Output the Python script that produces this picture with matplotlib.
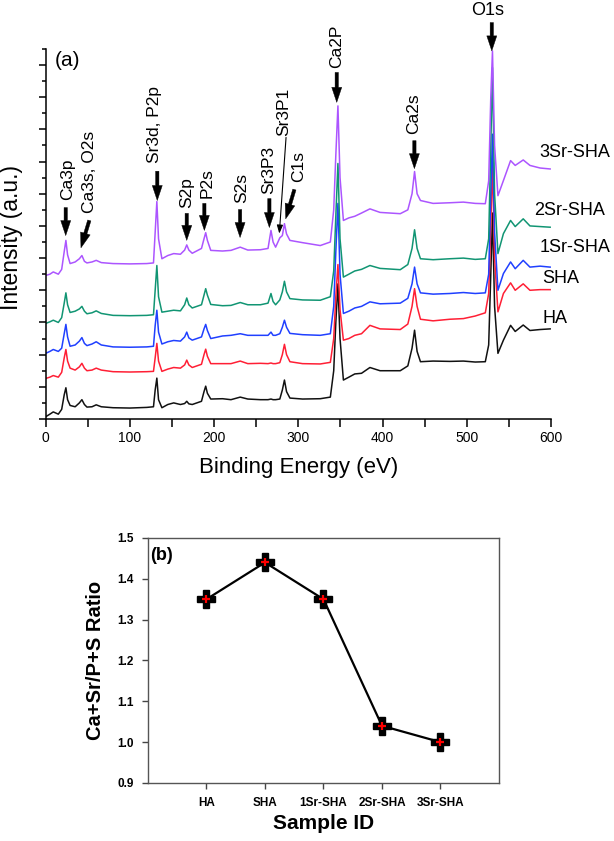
import matplotlib
matplotlib.use("Agg")
import matplotlib.pyplot as plt
from matplotlib.ticker import MultipleLocator, FormatStrFormatter

plt.rcParams['font.family'] = ['Liberation Sans', 'DejaVu Sans']

# (a) XPS survey spectra, stacked; binding energy grid shared by all curves
energy = [0, 5, 9, 15, 19, 22, 24, 26, 29, 35, 40, 43, 46, 49, 55, 60, 66, 80, 100,
          120, 128, 130, 132, 134, 138, 145, 152, 160, 165, 167.5, 170, 174, 185,
          188, 190, 192, 196, 210, 220, 231, 240, 255, 264, 267.5, 270, 273, 278,
          281, 283.5, 286, 290, 305, 326, 338, 342, 344.5, 347, 349.5, 353.5, 360,
          367, 375, 385, 397, 421, 430, 435, 438, 441, 445, 460, 480, 496, 510, 522,
          526, 528.5, 530.5, 533, 537, 543.5, 552, 557.5, 567, 575, 587, 599]

ha = [0.07, 0.15, 0.22, 0.15, 0.3, 0.75, 0.97, 0.6, 0.42, 0.38, 0.5, 0.6, 0.45, 0.37,
      0.38, 0.44, 0.38, 0.35, 0.34, 0.36, 0.38, 0.9, 1.27, 0.6, 0.35, 0.45, 0.5, 0.45,
      0.48, 0.55, 0.47, 0.45, 0.55, 0.85, 1.02, 0.8, 0.62, 0.63, 0.6, 0.68, 0.62, 0.6,
      0.6, 0.62, 0.6, 0.6, 0.62, 0.9, 1.21, 0.85, 0.65, 0.62, 0.63, 0.68, 1.5, 3.0,
      4.2, 2.5, 1.21, 1.3, 1.4, 1.42, 1.6, 1.5, 1.5, 1.65, 2.2, 2.76, 2.1, 1.78, 1.8,
      1.79, 1.8, 1.77, 1.78, 2.3, 4.5, 6.4, 3.5, 2.04, 2.45, 2.91, 2.72, 2.92, 2.75,
      2.78, 2.8]

sha = [1.26, 1.3, 1.35, 1.3, 1.45, 1.9, 2.16, 1.8, 1.58, 1.52, 1.62, 1.73, 1.58, 1.5,
       1.52, 1.58, 1.52, 1.47, 1.46, 1.47, 1.48, 1.9, 2.35, 1.8, 1.48, 1.55, 1.6, 1.58,
       1.68, 1.83, 1.68, 1.6, 1.7, 2.0, 2.17, 1.95, 1.72, 1.72, 1.72, 1.8, 1.72, 1.73,
       1.72, 1.74, 1.72, 1.72, 1.75, 2.0, 2.32, 2.0, 1.78, 1.72, 1.71, 1.76, 2.5, 3.8,
       4.8, 3.4, 2.45, 2.5, 2.6, 2.65, 2.91, 2.8, 2.78, 2.95, 3.5, 4.05, 3.5, 3.1, 3.05,
       3.1, 3.12, 3.2, 3.3, 3.9, 6.0, 8.0, 5.0, 3.33, 3.9, 4.23, 4.0, 4.2, 4.0, 4.02,
       4.02]

sr1_sha = [2.04, 2.1, 2.16, 2.1, 2.2, 2.65, 2.94, 2.55, 2.26, 2.3, 2.42, 2.53, 2.35,
           2.28, 2.33, 2.4, 2.3, 2.24, 2.23, 2.24, 2.26, 2.9, 3.38, 2.7, 2.33, 2.4,
           2.44, 2.42, 2.55, 2.7, 2.52, 2.45, 2.55, 2.8, 2.94, 2.75, 2.5, 2.58, 2.6,
           2.65, 2.6, 2.6, 2.6, 2.7, 2.6, 2.6, 2.65, 2.85, 3.07, 2.85, 2.66, 2.62, 2.6,
           2.65, 3.5, 5.2, 6.7, 4.5, 3.28, 3.35, 3.45, 3.5, 3.64, 3.58, 3.6, 3.75, 4.2,
           4.72, 4.2, 3.92, 3.88, 3.9, 3.93, 3.9, 3.92, 4.5, 7.0, 8.85, 5.8, 4.0, 4.52,
           4.88, 4.67, 4.93, 4.72, 4.75, 4.72]

sr2_sha = [2.97, 3.02, 3.07, 3.0, 3.15, 3.6, 3.92, 3.55, 3.31, 3.35, 3.42, 3.5, 3.35,
           3.27, 3.3, 3.36, 3.28, 3.22, 3.21, 3.22, 3.24, 4.0, 4.77, 3.8, 3.32, 3.35,
           3.38, 3.36, 3.55, 3.76, 3.55, 3.45, 3.55, 3.85, 4.05, 3.85, 3.56, 3.52,
           3.53, 3.62, 3.55, 3.55, 3.6, 3.9, 3.65, 3.55, 3.7, 3.95, 4.28, 3.95, 3.74,
           3.7, 3.69, 3.8, 4.6, 6.3, 7.94, 5.6, 4.41, 4.5, 4.6, 4.65, 4.77, 4.68, 4.64,
           4.8, 5.3, 5.88, 5.3, 4.98, 4.95, 4.98, 5.0, 4.96, 4.98, 5.6, 8.5, 10.92, 7.0,
           5.14, 5.76, 6.17, 5.98, 6.22, 6.0, 5.98, 5.96]

sr3_sha = [4.46, 4.5, 4.57, 4.5, 4.65, 5.2, 5.55, 5.1, 4.83, 4.88, 4.98, 5.08, 4.9,
           4.85, 4.88, 4.93, 4.86, 4.83, 4.82, 4.83, 4.85, 5.8, 6.76, 5.6, 4.98, 5.08,
           5.14, 5.12, 5.25, 5.41, 5.25, 5.15, 5.3, 5.6, 5.79, 5.55, 5.24, 5.22, 5.24,
           5.34, 5.25, 5.26, 5.3, 5.86, 5.5, 5.34, 5.63, 5.7, 6.07, 5.75, 5.55, 5.48,
           5.39, 5.5, 6.5, 8.2, 9.73, 7.5, 6.17, 6.25, 6.3, 6.4, 6.53, 6.42, 6.38, 6.5,
           7.0, 7.69, 7.0, 6.79, 6.7, 6.72, 6.74, 6.7, 6.69, 7.4, 10.0, 11.44, 8.5, 6.94,
           7.41, 8.03, 7.88, 8.05, 7.88, 7.8, 7.77]

curve_names = ["HA", "SHA", "1Sr-SHA", "2Sr-SHA", "3Sr-SHA"]
curve_colors = ["#111111", "#ff1f35", "#2040ff", "#119573", "#ac55ff"]

# peak assignments: text, x of text, bottom of text, arrow tail, arrow tip
peak_labels = [
    ("Ca3p", 26.1, 6.82, (23.8, 6.57), (23.8, 5.70)),
    ("Ca3s, O2s", 52.6, 6.39, (51.8, 6.17), (41.9, 5.32)),
    ("Sr3d, P2p", 129.8, 7.94, (132.5, 7.70), (132.5, 6.79)),
    ("S2p", 167.5, 6.57, (167.5, 6.39), (167.5, 5.55)),
    ("P2s", 191.2, 6.88, (188.4, 6.70), (188.4, 5.86)),
    ("S2s", 232.8, 6.70, (230.8, 6.51), (230.8, 5.64)),
    ("Sr3P3", 264.4, 7.00, (265.6, 6.85), (265.6, 5.95)),
    ("C1s", 300.0, 7.35, (295.3, 7.13), (285.0, 6.22)),
    ("Ca2P", 345.6, 10.91, (345.6, 10.77), (345.6, 9.84)),
    ("Ca2s", 436.6, 8.87, (437.8, 8.65), (437.8, 7.78)),
]

# (b) ratio per sample
samples = ["HA", "SHA", "1Sr-SHA", "2Sr-SHA", "3Sr-SHA"]
ratio = [1.35, 1.44, 1.35, 1.04, 1.00]

fig = plt.figure(figsize=(6.14, 8.41), dpi=100)

# ---------- panel (a) ----------
ax = fig.add_axes([0.0744, 0.5018, 0.823, 0.440])
for y, c in zip([ha, sha, sr1_sha, sr2_sha, sr3_sha], curve_colors):
    ax.plot(energy, y, color=c, lw=1.1)

name_pos = [(590, 3.13), (590, 4.37), (586, 5.34), (579.5, 6.48), (586, 8.29)]
for name, (x, y) in zip(curve_names, name_pos):
    ax.text(x, y, name, fontsize=13, ha='left', va='center', clip_on=False)

thick = dict(arrowstyle="simple,head_length=0.9,head_width=0.6,tail_width=0.2",
             mutation_scale=12, fc="black", ec="black", lw=0.3,
             shrinkA=0, shrinkB=0)
for text, tx, ty, tail, tip in peak_labels:
    ax.text(tx, ty, text, rotation=90, fontsize=12.5, ha='center', va='bottom')
    ax.annotate("", xy=tip, xytext=tail, arrowprops=thick, annotation_clip=False)

# Sr3P1 with a thin pointer
ax.text(282.2, 8.80, "Sr3P1", rotation=90, fontsize=12.5, ha='center', va='bottom')
ax.annotate("", xy=(277.4, 5.76), xytext=(285.4, 8.75),
            arrowprops=dict(arrowstyle="-|>,head_length=0.5,head_width=0.18",
                            lw=0.8, color="black", shrinkA=0, shrinkB=0))

# O1s sits above the frame
ax.text(525, 12.68, "O1s", fontsize=13, ha='center', va='center', clip_on=False)
ax.annotate("", xy=(529.7, 11.44), xytext=(529.7, 12.32), arrowprops=thick,
            annotation_clip=False)

ax.text(11, 11.13, "(a)", fontsize=15, ha='left', va='center')

ax.set_xlim(0, 600)
ax.set_ylim(0, 11.5)
ax.xaxis.set_major_locator(MultipleLocator(100))
ax.xaxis.set_minor_locator(MultipleLocator(50))
ax.yaxis.set_major_locator(MultipleLocator(1))
ax.yaxis.set_minor_locator(MultipleLocator(0.5))
ax.set_yticklabels([])
ax.tick_params(axis='x', which='both', direction='out', length=5.5, width=1.1,
               labelsize=10, pad=3)
ax.tick_params(axis='y', which='major', direction='out', length=5, width=1.1)
ax.tick_params(axis='y', which='minor', direction='out', length=3, width=1.1)
for s in ['top', 'right']:
    ax.spines[s].set_visible(False)
for s in ['left', 'bottom']:
    ax.spines[s].set_linewidth(1.1)
ax.set_xlabel("Binding Energy (eV)", fontsize=16)
ax.xaxis.set_label_coords(0.5, -0.103)
ax.set_ylabel("Intensity (a.u.)", fontsize=16.5)
ax.yaxis.set_label_coords(-0.045, 0.49)

# ---------- panel (b) ----------
bx = fig.add_axes([0.241, 0.069, 0.5717, 0.2913])
pos = list(range(1, len(samples) + 1))
bx.plot(pos, ratio, color='black', lw=1.6, marker='P', markersize=13,
        markerfacecolor='black', markeredgecolor='black', zorder=3)
bx.plot(pos, ratio, ls='none', marker='+', markersize=6, mew=1.6,
        color='red', zorder=4)
bx.set_xlim(0, 6)
bx.set_ylim(0.9, 1.5)
bx.set_xticks(pos)
bx.set_xticklabels(samples, fontsize=8.5, fontweight='bold')
bx.yaxis.set_major_locator(MultipleLocator(0.1))
bx.yaxis.set_major_formatter(FormatStrFormatter('%.1f'))
for lab in bx.get_yticklabels():
    lab.set_fontsize(8.5)
    lab.set_fontweight('bold')
bx.tick_params(direction='out', length=4, width=1, color='#444444', pad=6)
for s in bx.spines.values():
    s.set_color('#555555')
    s.set_linewidth(1.0)
bx.text(0.006, 0.93, "(b)", transform=bx.transAxes, fontsize=13,
        fontweight='bold', ha='left', va='center')
bx.set_xlabel("Sample ID", fontsize=15, fontweight='bold', labelpad=4)
bx.set_ylabel("Ca+Sr/P+S Ratio", fontsize=14.5, fontweight='bold', labelpad=9)

fig.savefig("out.png", dpi=100)
